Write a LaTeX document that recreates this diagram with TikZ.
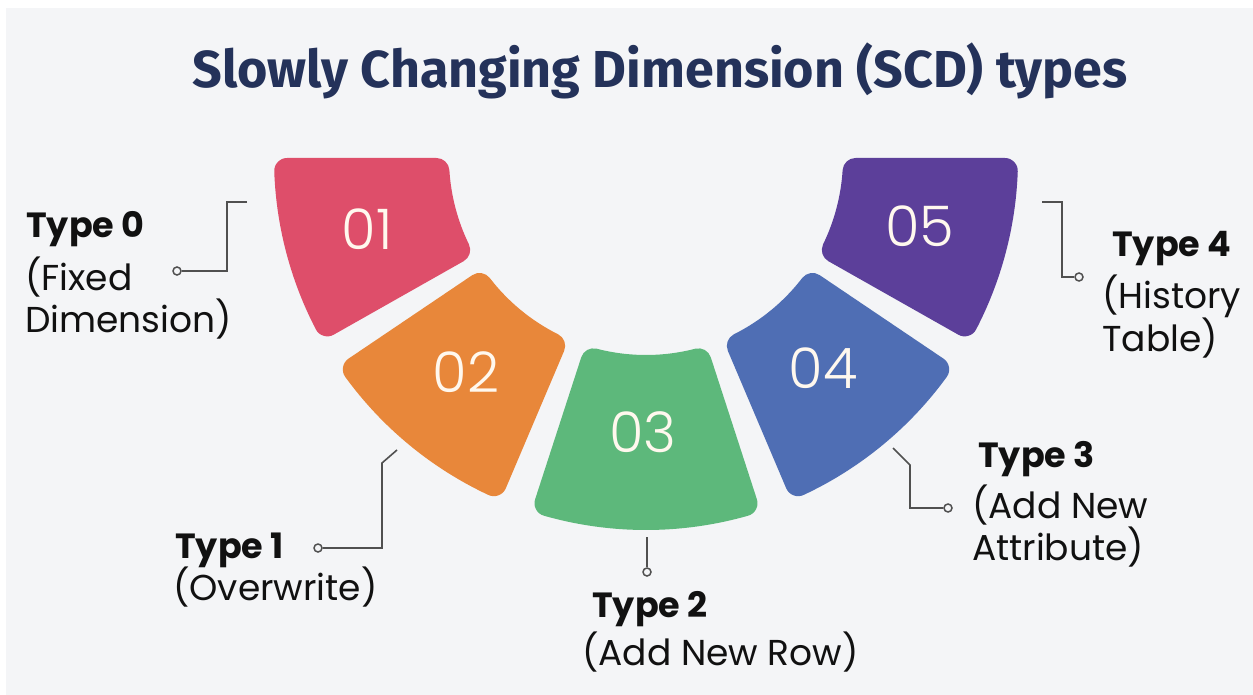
\documentclass[tikz,border=0pt]{standalone}
\usepackage{fontspec}
\setmainfont{Poppins}
\newfontfamily\titlefont{Fira Sans}
\newfontfamily\numfont{Poppins Light}
\usetikzlibrary{calc}

\definecolor{bg}{HTML}{F4F5F7}
\definecolor{titleblue}{HTML}{24325A}
\definecolor{segA}{HTML}{DE4E6A}
\definecolor{segB}{HTML}{E8873A}
\definecolor{segC}{HTML}{5DB87B}
\definecolor{segD}{HTML}{4F6EB4}
\definecolor{segE}{HTML}{5C3F9A}
\definecolor{shadowc}{HTML}{8E95C4}
\definecolor{linkgray}{HTML}{505050}
\definecolor{numtext}{HTML}{FFF8EE}
\definecolor{ink}{HTML}{111111}

% ring geometry (in px-sized points, y pointing down)
\newcommand\rin{197}
\newcommand\rout{372}
\newcommand\rr{13}

% rounded annular sector: start angle, end angle, colour
\newcommand\ringseg[3]{%
  \pgfmathsetmacro\ri{\rin+\rr}%
  \pgfmathsetmacro\ro{\rout-\rr}%
  \pgfmathsetmacro\ai{#1+asin(\rr/\ri)}%
  \pgfmathsetmacro\ao{#1+asin(\rr/\ro)}%
  \pgfmathsetmacro\bi{#2-asin(\rr/\ri)}%
  \pgfmathsetmacro\bo{#2-asin(\rr/\ro)}%
  \pgfmathsetmacro\lw{2*\rr}%
  \filldraw[fill=#3, draw=#3, line width=\lw pt, line join=round]
    ($(C)+(\ai:\ri)$) -- ($(C)+(\ao:\ro)$)
    arc[start angle=\ao, end angle=\bo, radius=\ro]
    -- ($(C)+(\bi:\ri)$)
    arc[start angle=\bi, end angle=\ai, radius=\ri] -- cycle;
}

% soft outward shadow under a sector
\newcommand\ringshadow[2]{%
  \pgfmathsetmacro\sm{(#1+#2)/2}%
  \foreach \k in {3,6,9,12,15,18,21}{%
    \fill[shadowc, fill opacity=0.075, shift={(\sm:\k)}, yshift=4pt]
      ($(C)+(#1+3:\rin+25)$) -- ($(C)+(#1+3:\rout-6)$)
      arc[start angle=#1+3, end angle=#2-3, radius=\rout-6]
      -- ($(C)+(#2-3:\rin+25)$)
      arc[start angle=#2-3, end angle=#1+3, radius=\rin+25] -- cycle;
  }%
}

\newcommand\twolines[2]{\vtop{\hbox{#1}\hbox{#2}}}

\begin{document}
\begin{tikzpicture}[x=1pt, y=-1pt,
  link/.style={draw=linkgray, line width=1.6pt},
  tip/.style={circle, draw=linkgray, line width=1.5pt, fill=bg, inner sep=0pt, minimum size=8pt},
  num/.style={font=\numfont\fontsize{56}{56}\selectfont, text=numtext, inner sep=0pt},
  head/.style={font=\bfseries\fontsize{35}{42}\selectfont, text=ink, inner sep=0pt, anchor=base west},
  desc/.style={font=\fontsize{36}{42}\selectfont, text=ink, inner sep=0pt, anchor=base west}]

\useasboundingbox (0,0) rectangle (1253,695);
\fill[white] (0,0) rectangle (1253,695);
\fill[bg] (6,8) rectangle (1253,695);

% title
\node[font=\titlefont\bfseries\fontsize{52}{56}\selectfont, text=titleblue, inner sep=0pt, anchor=base]
  (title) at (660,88) {Slowly Changing Dimension (SCD) types};

% centre of the ring
\coordinate (C) at (646,158);

% shadows
\ringshadow{150.5}{180}
\ringshadow{113}{146}
\ringshadow{72}{108}
\ringshadow{34}{67}
\ringshadow{0}{29.5}

% ring segments
\ringseg{150.5}{180}{segA}
\ringseg{113}{146}{segB}
\ringseg{72}{108}{segC}
\ringseg{34}{67}{segD}
\ringseg{0}{29.5}{segE}

% numbers
\node[num] (n1) at (367,229) {01};
\node[num] (n2) at (466,372) {02};
\node[num] (n3) at (643,432) {03};
\node[num] (n4) at (823,368) {04};
\node[num] (n5) at (920,226) {05};

% labels
\node[head] (t0) at (26,237) {Type 0};
\node[desc] (s0) at (25,290) {\twolines{(Fixed}{Dimension)}};
\node[head] (t1) at (175,558) {Type 1};
\node[desc] (s1) at (173,600) {(Overwrite)};
\node[head] (t2) at (592,617) {Type 2};
\node[desc] (s2) at (582,665) {(Add New Row)};
\node[head] (t3) at (978,467) {Type 3};
\node[desc] (s3) at (972,518) {\twolines{(Add New}{Attribute)}};
\node[head] (t4) at (1112,257) {Type 4};
\node[desc] (s4) at (1102,308) {\twolines{(History}{Table)}};

% connector ends
\coordinate (k0) at (247,202);
\coordinate (k1) at (397,450);
\coordinate (k2) at (647,537);
\coordinate (k3) at (893,448);
\coordinate (k4) at (1042,202);
\node[tip] (d0) at (177,271) {};
\node[tip] (d1) at (318,548) {};
\node[tip] (d2) at (647,572) {};
\node[tip] (d3) at (948,508) {};
\node[tip] (d4) at (1079,277) {};

% connectors
\draw[link] (k0) -- ++(-20,0) |- (d0);
\draw[link] (k1) -- ++(-15,13) |- (d1);
\draw[link] (k2) -- (d2);
\draw[link] (k3) -- ++(17,17) |- (d3);
\draw[link] (k4) -- ++(20,0) |- (d4);
\end{tikzpicture}
\end{document}
